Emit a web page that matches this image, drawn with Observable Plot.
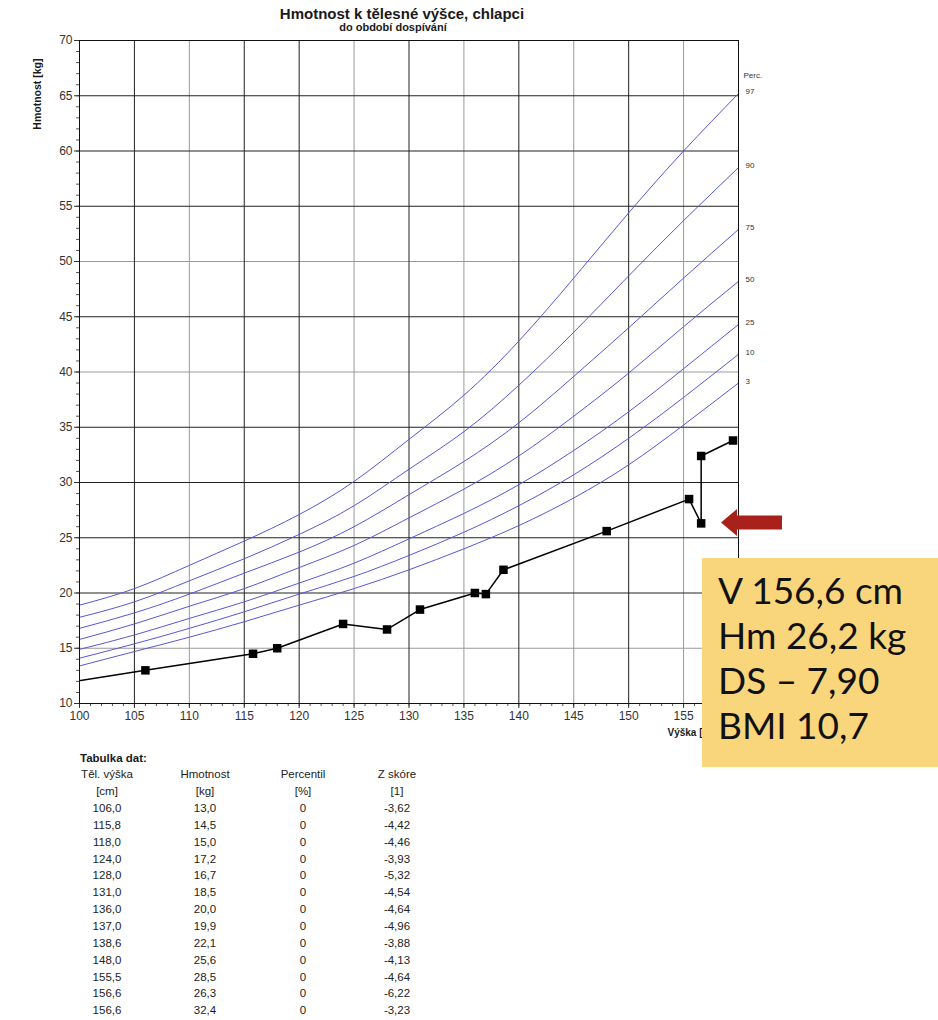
<!DOCTYPE html>
<html><head><meta charset="utf-8">
<script src="https://cdn.jsdelivr.net/npm/d3@7"></script>
<script src="https://cdn.jsdelivr.net/npm/@observablehq/plot@0.6"></script>
<style>
body{margin:0;background:#fff;font-family:"Liberation Sans",Arial,sans-serif;}
#wrap{position:relative;width:938px;height:1020px;overflow:hidden;background:#fff;}
.t{position:absolute;white-space:nowrap;color:#1a1a1a;}
#title{left:202px;width:400px;text-align:center;top:5px;font-weight:bold;font-size:15px;}
#subtitle{left:193px;width:400px;text-align:center;top:21px;font-weight:bold;font-size:11px;}
#chart{position:absolute;left:0;top:30px;}
#box{position:absolute;left:702px;top:558px;width:236px;height:209px;background:#f9d67c;}
#box div{position:absolute;left:16px;font-family:Lato,"Open Sans",sans-serif;font-size:37px;color:#111;line-height:1;}
.cell{position:absolute;transform:translate(-50%,-50%);font-size:11.5px;color:#222;white-space:nowrap;}
#arrow{position:absolute;left:0;top:0;}
</style></head>
<body><div id="wrap">
<div id="title" class="t">Hmotnost k tělesné výšce, chlapci</div>
<div id="subtitle" class="t">do období dospívání</div>
<div id="chart"></div>
<svg id="arrow" width="938" height="1020"><polygon points="721,522.5 737,509 737,515.5 782,515.5 782,529.5 737,529.5 737,536" fill="#a8221b"/></svg>
<div id="box">
<div style="top:13px">V 156,6 cm</div>
<div style="top:58px">Hm 26,2 kg</div>
<div style="top:103px">DS – 7,90</div>
<div style="top:148px">BMI 10,7</div>
</div>
<div id="table"></div>
</div>
<script>
// Percentile reference curves (height in cm -> weight in kg)
const curveHeights = [100,105,110,115,120,125,130,135,140,145,150,155,160];
const p97 = [18.9,20.4,22.5,24.7,27.1,30.1,33.9,37.9,42.8,48.5,54.4,60.0,65.2];
const p90 = [17.8,19.2,21.1,23.1,25.3,27.9,31.2,34.6,38.8,43.6,48.7,53.7,58.5];
const p75 = [16.8,18.2,19.9,21.8,23.7,26.0,28.9,31.9,35.4,39.6,44.0,48.5,52.9];
const p50 = [15.8,17.2,18.8,20.4,22.3,24.3,26.8,29.4,32.4,36.0,39.9,44.1,48.2];
const p25 = [14.9,16.2,17.7,19.2,20.9,22.7,24.9,27.2,29.8,32.9,36.4,40.3,44.3];
const p10 = [14.1,15.4,16.8,18.3,19.9,21.5,23.4,25.5,27.9,30.7,34.0,37.7,41.6];
const p3  = [13.4,14.7,16.0,17.4,18.9,20.4,22.1,24.0,26.1,28.6,31.6,35.2,39.0];
const percentileNames = ["97","90","75","50","25","10","3"];

// Patient measurements
const heights = [95.0,106.0,115.8,118.0,124.0,128.0,131.0,136.0,137.0,138.6,148.0,155.5,156.6,156.6,159.5];
const weights = [11.3,13.0,14.5,15.0,17.2,16.7,18.5,20.0,19.9,22.1,25.6,28.5,26.3,32.4,33.8];

// Data table
const tableHeights = [106.0,115.8,118.0,124.0,128.0,131.0,136.0,137.0,138.6,148.0,155.5,156.6,156.6];
const tableWeights = [13.0,14.5,15.0,17.2,16.7,18.5,20.0,19.9,22.1,25.6,28.5,26.3,32.4];
const tablePercentiles = [0,0,0,0,0,0,0,0,0,0,0,0,0];
const tableZ = [-3.62,-4.42,-4.46,-3.93,-5.32,-4.54,-4.64,-4.96,-3.88,-4.13,-4.64,-6.22,-3.23];

// Axis ticks and grid
const xTickLabels = [100,105,110,115,120,125,130,135,140,145,150,155];
const yTickLabels = [10,15,20,25,30,35,40,45,50,55,60,65,70];
const xGridDark = [105,115,120,130,140,150];
const xGridLight = [110,125,135,145,155];
const yGridDark = [20,25,30,35,45,55,60,65];
const yGridLight = [15,40,50];

const curveSets = [p97,p90,p75,p50,p25,p10,p3];
const curveRows = [];
curveSets.forEach((arr, k) => arr.forEach((w, i) => curveRows.push({p: percentileNames[k], h: curveHeights[i], w})));
const endRows = curveSets.map((arr, k) => ({p: percentileNames[k], h: curveHeights[curveHeights.length-1], w: arr[arr.length-1]}));
const meas = heights.map((h, i) => ({h, w: weights[i]}));

const chart = Plot.plot({
  width: 938, height: 713,
  marginLeft: 79, marginRight: 200, marginTop: 10, marginBottom: 40,
  style: {fontFamily: "Liberation Sans, Arial, sans-serif", color: "#333", background: "transparent"},
  x: {domain: [100,160], label: null},
  y: {domain: [10,70], label: null},
  marks: [
    Plot.ruleX(xGridLight, {stroke: "#9a9a9a", strokeWidth: 1}),
    Plot.ruleY(yGridLight, {stroke: "#9a9a9a", strokeWidth: 1}),
    Plot.ruleX(xGridDark, {stroke: "#222", strokeWidth: 1}),
    Plot.ruleY(yGridDark, {stroke: "#222", strokeWidth: 1}),
    Plot.line(curveRows, {x: "h", y: "w", z: "p", stroke: "#5757d8", strokeWidth: 1, curve: "natural"}),
    Plot.text(endRows, {x: "h", y: "w", text: "p", dx: 7, dy: -2, textAnchor: "start", fontSize: 8, fill: "#333"}),
    Plot.text(["Perc."], {frameAnchor: "top-right", dx: 5, dy: 32, textAnchor: "start", fontSize: 8, fill: "#333"}),
    Plot.line(meas, {x: "h", y: "w", stroke: "#000", strokeWidth: 1.5, clip: true}),
    Plot.dot(meas, {x: "h", y: "w", symbol: "square", fill: "#000", r: 4.8, clip: true}),
    Plot.axisX({ticks: d3.range(100,161,1), tickSize: 3, tickFormat: () => "", stroke: "#555", label: null}),
    Plot.axisX({ticks: xTickLabels, tickSize: 5, tickPadding: 3, fontSize: 12, label: null, stroke: "#333"}),
    Plot.axisY({ticks: d3.range(10,71,1), tickSize: 3, tickFormat: () => "", stroke: "#555", label: null}),
    Plot.axisY({ticks: yTickLabels, tickSize: 5, tickPadding: 2, fontSize: 12, label: null, stroke: "#333"}),
    Plot.text(["Hmotnost [kg]"], {frameAnchor: "top-left", dx: -46, dy: 18, rotate: -90, textAnchor: "end", fontSize: 10.5, fontWeight: "bold", fill: "#1a1a1a"}),
    Plot.text(["Výška [cm]"], {frameAnchor: "bottom-right", dx: -71, dy: 32, textAnchor: "start", fontSize: 10, fontWeight: "bold", fill: "#1a1a1a"}),
    Plot.frame({stroke: "#111", strokeWidth: 1})
  ]
});
document.getElementById("chart").appendChild(chart);

// Table
const tbl = document.getElementById("table");
const fmt = (v, d) => v.toFixed(d).replace(".", ",");
function cell(text, x, y) {
  const el = document.createElement("div");
  el.className = "cell";
  el.style.left = x + "px"; el.style.top = y + "px";
  el.textContent = text;
  tbl.appendChild(el);
}
const head = document.createElement("div");
head.className = "t"; head.textContent = "Tabulka dat:";
head.style.cssText = "left:80px;top:752px;font-weight:bold;font-size:11.5px;";
tbl.appendChild(head);
const cols = [107, 205, 303, 397];
["Těl. výška","Hmotnost","Percentil","Z skóre"].forEach((t, i) => cell(t, cols[i], 774));
["[cm]","[kg]","[%]","[1]"].forEach((t, i) => cell(t, cols[i], 791));
tableHeights.forEach((h, i) => {
  const y = 808 + 16.85 * i;
  cell(fmt(h, 1), cols[0], y);
  cell(fmt(tableWeights[i], 1), cols[1], y);
  cell(String(tablePercentiles[i]), cols[2], y);
  cell(fmt(tableZ[i], 2), cols[3], y);
});
</script>
</body></html>
